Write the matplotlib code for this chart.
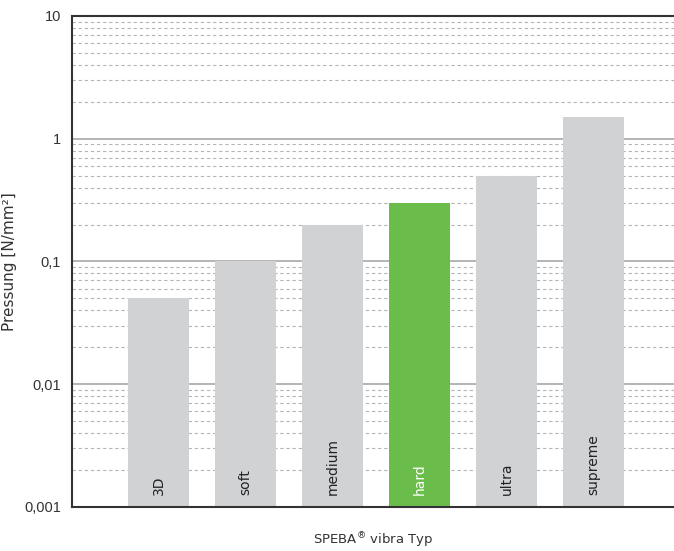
import matplotlib
matplotlib.use('Agg')
import matplotlib.pyplot as plt
from matplotlib.ticker import FixedLocator, FixedFormatter, LogLocator, NullFormatter

types = ['3D', 'soft', 'medium', 'hard', 'ultra', 'supreme']
pressure = [0.05, 0.1, 0.2, 0.3, 0.5, 1.5]
highlight = 'hard'
ytick_vals = [0.001, 0.01, 0.1, 1, 10]
ytick_labels = ['0,001', '0,01', '0,1', '1', '10']

GREY = '#d1d2d4'
GREEN = '#6abd4b'
TXT = '#333333'

fig = plt.figure(figsize=(6.74, 5.51), dpi=100)
ax = fig.add_axes([0.107, 0.080, 0.893, 0.891])

x = list(range(len(types)))
colors = [GREEN if t == highlight else GREY for t in types]
ax.bar(x, [p - 0.001 for p in pressure], bottom=0.001, width=0.70,
       color=colors, zorder=3)

ax.set_yscale('log')
ax.set_ylim(0.001, 10)
ax.set_xlim(-0.994, 5.925)

ax.yaxis.set_major_locator(FixedLocator(ytick_vals))
ax.yaxis.set_major_formatter(FixedFormatter(ytick_labels))
ax.yaxis.set_minor_locator(LogLocator(base=10, subs=range(2, 10)))
ax.yaxis.set_minor_formatter(NullFormatter())
ax.tick_params(axis='y', which='both', length=0, labelsize=10.5, colors=TXT, pad=8,
               labelfontfamily='Liberation Sans')
ax.set_xticks([])

ax.grid(axis='y', which='major', color='#a8a8a8', linewidth=1.2, zorder=1)
ax.grid(axis='y', which='minor', color='#b5b5b5', linewidth=0.8,
        linestyle=(0, (3, 2.5)), zorder=1)

for side in ['left', 'bottom', 'top']:
    ax.spines[side].set_color(TXT)
    ax.spines[side].set_linewidth(1.5)
    ax.spines[side].set_zorder(4)
ax.spines['right'].set_visible(False)

for xi, t in zip(x, types):
    ax.text(xi, 0.00125, t, rotation=90, ha='center', va='bottom', fontsize=10,
            color='white' if t == highlight else '#222222', zorder=5)

ax.set_ylabel('Pressung [N/mm²]', fontsize=11, color=TXT, labelpad=5)
ax.set_xlabel('SPEBA$^{®}$ vibra Typ', fontsize=9.5, color=TXT, labelpad=17)

fig.savefig('out.png', dpi=100)
